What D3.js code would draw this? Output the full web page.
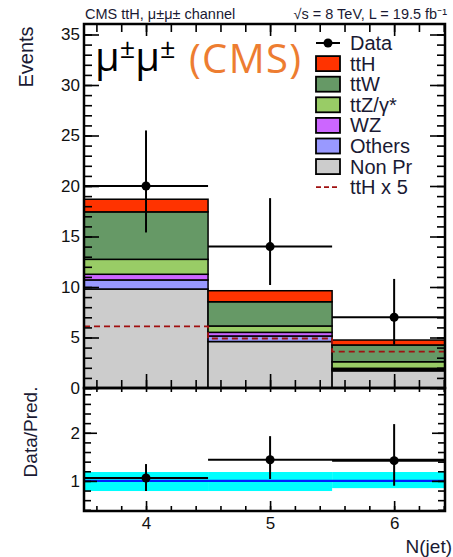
<!DOCTYPE html>
<html>
<head>
<meta charset="utf-8">
<script src="https://cdn.jsdelivr.net/npm/d3@7"></script>
<style>
  html, body { margin: 0; padding: 0; background: #fff; }
  svg { display: block; font-family: "Liberation Sans", Arial, sans-serif; }
</style>
</head>
<body>
<svg id="chart" width="453" height="557"></svg>
<script>
// bins (N jets) and stacked backgrounds, bottom to top
const bins = [4, 5, 6]
const nonPr = [9.8, 4.6, 1.7]
const others = [0.9, 0.55, 0.1]
const wz = [0.56, 0.36, 0.15]
const ttZ = [1.48, 0.63, 0.65]
const ttW = [4.7, 2.4, 1.66]
const ttH = [1.25, 1.09, 0.49]
const ttHx5 = [6.1, 4.9, 3.6]

const dataVal = [20, 14, 7]
const dataHi = [25.5, 18.8, 10.8]
const dataLo = [15.4, 10.2, 4.3]

const ratioVal = [1.06, 1.44, 1.42]
const ratioHi = [1.35, 1.93, 2.18]
const ratioLo = [0.79, 1.04, 0.9]
const ratioXLo = [3.5, 4.5, 5.5]
const ratioXHi = [4.5, 6.5, 6.5]
const bandLo = [0.79, 0.79, 0.85]
const bandHi = [1.185, 1.185, 1.185]

const yTicksTop = [0, 5, 10, 15, 20, 25, 30, 35]
const yTicksRatio = [1, 2]
const xTicks = [4, 5, 6]

const legendLabels = ['Data', 'ttH', 'ttW', 'ttZ/\u03b3*', 'WZ', 'Others', 'Non Pr', 'ttH x 5']

/*----------------------------------------------------------------------------*/

const keys = ['nonPr', 'others', 'wz', 'ttZ', 'ttW', 'ttH']
const colors = {
  nonPr: '#cccccc', others: '#9999ff', wz: '#cc66ff',
  ttZ: '#99cc66', ttW: '#669966', ttH: '#ff3300',
}
const series = { nonPr, others, wz, ttZ, ttW, ttH }
const rows = bins.map((b, i) => {
  const r = { bin: b }
  keys.forEach(k => { r[k] = series[k][i] })
  return r
})

const left = 84, right = 445
const topY = 24, midY = 388, botY = 511

const svg = d3.select('#chart')

const x = d3.scaleLinear().domain([3.5, 6.41]).range([left, right])
const y = d3.scaleLinear().domain([0, 36.04]).range([midY, topY])
const yr = d3.scaleLinear().domain([0.375, 2.93]).range([botY, midY])

svg.append('clipPath').attr('id', 'clipTop')
  .append('rect').attr('x', left).attr('y', topY).attr('width', right - left).attr('height', midY - topY)
svg.append('clipPath').attr('id', 'clipBot')
  .append('rect').attr('x', left).attr('y', midY).attr('width', right - left).attr('height', botY - midY)

// ---- top panel: stacked histogram
const stack = d3.stack().keys(keys)(rows)
const gTop = svg.append('g').attr('clip-path', 'url(#clipTop)')

gTop.selectAll('.layer')
  .data(stack)
  .enter()
  .append('g')
  .attr('class', 'layer')
  .attr('fill', d => colors[d.key])
  .selectAll('rect')
  .data(d => d)
  .enter()
  .append('rect')
  .attr('x', d => x(d.data.bin - 0.5))
  .attr('width', x(1) - x(0))
  .attr('y', d => y(d[1]))
  .attr('height', d => y(d[0]) - y(d[1]))
  .attr('stroke', '#000')
  .attr('stroke-width', 1.5)

// ttH x 5 dashed step line
const stepPts = bins.map((b, i) => [b - 0.5, ttHx5[i]])
stepPts.push([bins[bins.length - 1] + 0.5, ttHx5[ttHx5.length - 1]])
gTop.append('path')
  .datum(stepPts)
  .attr('d', d3.line().x(d => x(d[0])).y(d => y(d[1])).curve(d3.curveStepAfter))
  .attr('fill', 'none')
  .attr('stroke', '#a01010')
  .attr('stroke-width', 1.8)
  .attr('stroke-dasharray', '6,4')

// data points
const gData = gTop.append('g').attr('stroke', '#000').attr('stroke-width', 2)
bins.forEach((b, i) => {
  gData.append('line').attr('x1', x(b - 0.5)).attr('x2', x(b + 0.5))
    .attr('y1', y(dataVal[i])).attr('y2', y(dataVal[i]))
  gData.append('line').attr('x1', x(b)).attr('x2', x(b))
    .attr('y1', y(dataHi[i])).attr('y2', y(dataLo[i]))
  gData.append('circle').attr('cx', x(b)).attr('cy', y(dataVal[i])).attr('r', 4.5)
    .attr('fill', '#000').attr('stroke', 'none')
})

// ---- bottom panel: ratio
const gBot = svg.append('g').attr('clip-path', 'url(#clipBot)')
bins.forEach((b, i) => {
  gBot.append('rect')
    .attr('x', x(b - 0.5)).attr('width', x(1) - x(0))
    .attr('y', yr(bandHi[i])).attr('height', yr(bandLo[i]) - yr(bandHi[i]))
    .attr('fill', '#00ffff')
})
gBot.append('line')
  .attr('x1', left).attr('x2', right).attr('y1', yr(1)).attr('y2', yr(1))
  .attr('stroke', '#0022ff').attr('stroke-width', 2.2)

const gRatio = gBot.append('g').attr('stroke', '#000').attr('stroke-width', 2)
bins.forEach((b, i) => {
  gRatio.append('line').attr('x1', x(ratioXLo[i])).attr('x2', x(ratioXHi[i]))
    .attr('y1', yr(ratioVal[i])).attr('y2', yr(ratioVal[i]))
  gRatio.append('line').attr('x1', x(b)).attr('x2', x(b))
    .attr('y1', yr(ratioHi[i])).attr('y2', yr(ratioLo[i]))
  gRatio.append('circle').attr('cx', x(b)).attr('cy', yr(ratioVal[i])).attr('r', 4.5)
    .attr('fill', '#000').attr('stroke', 'none')
})

// ---- axes
const minorX = d3.range(3.6, 6.41, 0.2).map(v => +v.toFixed(1))
const styleAxis = (g, labels) => {
  g.select('.domain').remove()
  g.selectAll('.tick line').attr('stroke', '#000').attr('stroke-width', 1.6)
  g.selectAll('.tick text').attr('fill', '#111').style('font-size', '17px')
  if (!labels) g.selectAll('.tick text').remove()
}

// top panel y
svg.append('g').attr('transform', `translate(${left},0)`)
  .call(d3.axisLeft(y).tickValues(yTicksTop).tickSize(-15).tickPadding(4))
  .call(g => styleAxis(g, true))
svg.append('g').attr('transform', `translate(${left},0)`)
  .call(d3.axisLeft(y).tickValues(d3.range(0, 36)).tickSize(-8).tickFormat(''))
  .call(g => styleAxis(g, false))
svg.append('g').attr('transform', `translate(${right},0)`)
  .call(d3.axisRight(y).tickValues(yTicksTop).tickSize(-15).tickFormat(''))
  .call(g => styleAxis(g, false))
svg.append('g').attr('transform', `translate(${right},0)`)
  .call(d3.axisRight(y).tickValues(d3.range(0, 36)).tickSize(-8).tickFormat(''))
  .call(g => styleAxis(g, false))

// top panel x (top and bottom edges)
svg.append('g').attr('transform', `translate(0,${topY})`)
  .call(d3.axisTop(x).tickValues(minorX).tickSize(-8).tickFormat(''))
  .call(g => styleAxis(g, false))
svg.append('g').attr('transform', `translate(0,${topY})`)
  .call(d3.axisTop(x).tickValues(xTicks).tickSize(-12).tickFormat(''))
  .call(g => styleAxis(g, false))
svg.append('g').attr('transform', `translate(0,${midY})`)
  .call(d3.axisBottom(x).tickValues(minorX).tickSize(-8).tickFormat(''))
  .call(g => styleAxis(g, false))
svg.append('g').attr('transform', `translate(0,${midY})`)
  .call(d3.axisBottom(x).tickValues(xTicks).tickSize(-14).tickFormat(''))
  .call(g => styleAxis(g, false))

// ratio panel y
const minorR = d3.range(0.4, 2.93, 0.2).map(v => +v.toFixed(1))
svg.append('g').attr('transform', `translate(${left},0)`)
  .call(d3.axisLeft(yr).tickValues(yTicksRatio).tickSize(-13).tickPadding(4).tickFormat(d3.format('d')))
  .call(g => styleAxis(g, true))
svg.append('g').attr('transform', `translate(${left},0)`)
  .call(d3.axisLeft(yr).tickValues(minorR).tickSize(-7).tickFormat(''))
  .call(g => styleAxis(g, false))
svg.append('g').attr('transform', `translate(${right},0)`)
  .call(d3.axisRight(yr).tickValues(yTicksRatio).tickSize(-13).tickFormat(''))
  .call(g => styleAxis(g, false))
svg.append('g').attr('transform', `translate(${right},0)`)
  .call(d3.axisRight(yr).tickValues(minorR).tickSize(-7).tickFormat(''))
  .call(g => styleAxis(g, false))

// ratio panel x
svg.append('g').attr('transform', `translate(0,${midY})`)
  .call(d3.axisTop(x).tickValues(minorX).tickSize(-4).tickFormat(''))
  .call(g => styleAxis(g, false))
svg.append('g').attr('transform', `translate(0,${botY})`)
  .call(d3.axisBottom(x).tickValues(minorX).tickSize(-5).tickFormat(''))
  .call(g => styleAxis(g, false))
svg.append('g').attr('transform', `translate(0,${botY})`)
  .call(d3.axisBottom(x).tickValues(xTicks).tickSize(-10).tickPadding(6).tickFormat(d3.format('d')))
  .call(g => styleAxis(g, true))

// frames
svg.append('rect').attr('x', left).attr('y', topY).attr('width', right - left).attr('height', midY - topY)
  .attr('fill', 'none').attr('stroke', '#000').attr('stroke-width', 2.5)
svg.append('rect').attr('x', left).attr('y', midY).attr('width', right - left).attr('height', botY - midY)
  .attr('fill', 'none').attr('stroke', '#000').attr('stroke-width', 2.5)

// ---- titles
svg.append('text').attr('x', 85).attr('y', 19).style('font-size', '14.5px').attr('fill', '#1a1a33')
  .text('CMS ttH, \u03bc\u00b1\u03bc\u00b1 channel')
svg.append('text').attr('x', 447).attr('y', 19).attr('text-anchor', 'end').style('font-size', '14.5px')
  .attr('fill', '#1a1a33').text('\u221as = 8 TeV, L = 19.5 fb\u207b\u00b9')

svg.append('text').attr('transform', 'translate(33,57) rotate(-90)').attr('text-anchor', 'middle')
  .style('font-size', '20px').attr('fill', '#1a1a33').text('Events')
svg.append('text').attr('transform', 'translate(37,432) rotate(-90)').attr('text-anchor', 'middle')
  .style('font-size', '19px').attr('fill', '#1a1a33').text('Data/Pred.')
svg.append('text').attr('x', 452).attr('y', 553).attr('text-anchor', 'end')
  .style('font-size', '19px').attr('fill', '#1a1a33').text('N(jet)')

// big overlay label
const big = svg.append('text').attr('x', 95).attr('y', 71)
  .style('font-family', '"Open Sans", sans-serif').style('font-size', '40px').attr('fill', '#000')
big.append('tspan').text('\u03bc')
big.append('tspan').attr('dy', -13).style('font-size', '27px').text('\u00b1')
big.append('tspan').attr('dy', 13).text('\u03bc')
big.append('tspan').attr('dy', -13).style('font-size', '27px').text('\u00b1')
svg.append('text').attr('x', 189).attr('y', 73)
  .style('font-family', '"Open Sans", sans-serif').style('font-size', '40px')
  .attr('fill', '#ed7d31').attr('textLength', 112).attr('lengthAdjust', 'spacing').text('(CMS)')

// ---- legend
const legendKeys = [null, 'ttH', 'ttW', 'ttZ', 'wz', 'others', 'nonPr', null]
const lg = svg.append('g')
legendLabels.forEach((lab, i) => {
  const cy = 43 + i * 20.6
  const k = legendKeys[i]
  if (i === 0) {
    lg.append('line').attr('x1', 316).attr('x2', 340).attr('y1', cy).attr('y2', cy)
      .attr('stroke', '#000').attr('stroke-width', 2)
    lg.append('circle').attr('cx', 328).attr('cy', cy).attr('r', 4.5).attr('fill', '#000')
  } else if (k) {
    lg.append('rect').attr('x', 316).attr('y', cy - 7.5).attr('width', 24).attr('height', 15)
      .attr('fill', colors[k]).attr('stroke', '#000').attr('stroke-width', 1.8)
  } else {
    lg.append('line').attr('x1', 316).attr('x2', 340).attr('y1', cy).attr('y2', cy)
      .attr('stroke', '#a01010').attr('stroke-width', 1.8).attr('stroke-dasharray', '5,3')
  }
  lg.append('text').attr('x', 350).attr('y', cy + 7).style('font-size', '20px')
    .attr('fill', '#1a1a33').text(lab)
})
</script>
</body>
</html>
